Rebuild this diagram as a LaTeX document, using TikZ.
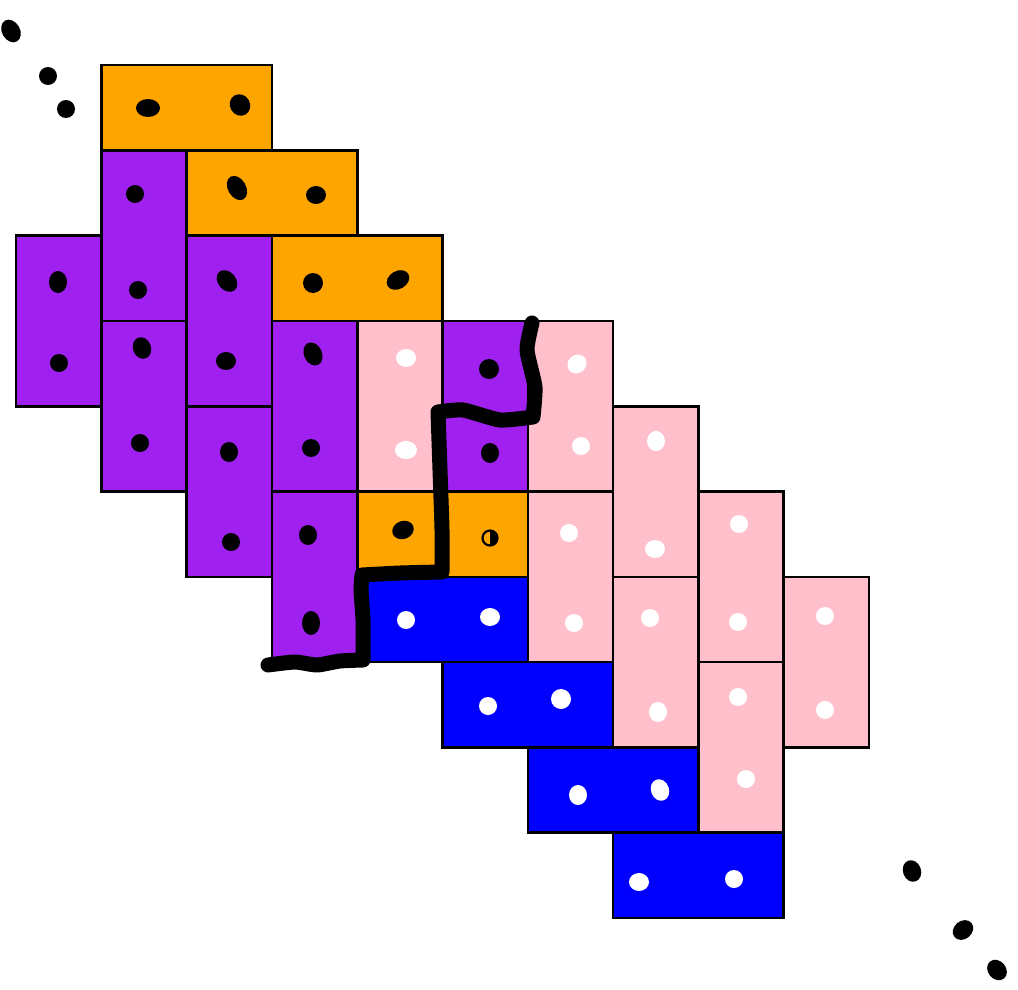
\documentclass[tikz,border=0pt]{standalone}
\definecolor{dor}{HTML}{FFA500}
\definecolor{dpu}{HTML}{A020F0}
\definecolor{dpi}{HTML}{FFC0CB}
\definecolor{dbl}{HTML}{0000FF}
\begin{document}
\begin{tikzpicture}[x=1pt,y=-1pt,
  tile/.style={draw=black,line width=2.6pt},
  wall/.style={draw=black,line width=15pt,line cap=round,line join=round}]
\useasboundingbox (0,0) rectangle (1018,990);
% horizontal dominoes
\foreach \i/\j/\c in {1/0/dor,2/1/dor,3/2/dor,4/5/dor,4/6/dbl,5/7/dbl,6/8/dbl,7/9/dbl}
  \draw[tile,fill=\c] ({16+\i*85.3},{65+\j*85.3}) rectangle ++(170.6,85.3);
% vertical dominoes
\foreach \i/\j/\c in {0/2/dpu,1/1/dpu,1/3/dpu,2/2/dpu,2/4/dpu,3/3/dpu,3/5/dpu,5/3/dpu,
  4/3/dpi,6/3/dpi,7/4/dpi,6/5/dpi,8/5/dpi,7/6/dpi,9/6/dpi,8/7/dpi}
  \draw[tile,fill=\c] ({16+\i*85.3},{65+\j*85.3}) rectangle ++(85.3,170.6);
% black dots
\foreach \x/\y/\a/\b/\r in {148/108/12/9/0,240/105/10/11/30,237/188/9/13/30,316/195/10/9/0,
  313/283/10/10/0,398/280/12/9/30,135/194/9/9/0,138/290/9/9/0,58/282/9/11/0,59/363/9/9/0,
  227/281/9/12/40,226/361/10/9/0,142/348/9/11/20,140/443/9/9/0,313/354/9/12/25,311/448/9/9/0,
  229/452/9/10/0,231/542/9/9/0,308/535/9/10/0,311/623/9/12/0,489/369/10/10/0,490/453/9/10/0,
  403/530/11/9/20,
  11/31/9/12/30,48/76/9/9/0,66/109/9/9/0,912/871/9/11/20,963/930/11/9/40,997/970/9/11/40}
  \fill[black,rotate around={\r:(\x,\y)}] (\x,\y) ellipse [x radius=\a, y radius=\b];
\draw[line width=2.2pt] (490,538) circle (7.5);
\fill (490,531) arc[start angle=-90,end angle=90,radius=7] -- cycle;
% white dots
\foreach \x/\y/\a/\b/\r in {406/358/10/9/0,406/450/11/9/0,577/364/10/9/40,581/446/9/9/0,
  656/441/9/10/0,655/549/10/9/0,569/533/9/9/0,574/623/9/9/0,739/524/9/9/0,738/622/9/9/0,
  650/618/9/9/0,658/712/9/10/0,825/616/9/9/0,825/710/9/9/0,738/697/9/9/0,746/779/9/9/0,
  406/620/9/9/0,490/617/10/9/0,488/706/9/9/0,561/699/10/10/0,578/795/9/10/0,660/790/9/11/20,
  639/882/10/9/0,734/879/9/9/0}
  \fill[white,rotate around={\r:(\x,\y)}] (\x,\y) ellipse [x radius=\a, y radius=\b];
% black path
\draw[wall] plot[smooth,tension=0.35] coordinates {(268,665) (295,662) (317,665) (340,661) (363,660)}
  -- plot[smooth,tension=0.35] coordinates {(363,660) (363,620) (361,590) (362,575)}
  -- plot[smooth,tension=0.35] coordinates {(362,575) (400,573) (442,572)}
  -- plot[smooth,tension=0.35] coordinates {(442,572) (442,530) (440,470) (438,412)}
  -- plot[smooth,tension=0.35] coordinates {(438,412) (463,410) (500,420) (533,417)}
  -- plot[smooth,tension=0.35] coordinates {(533,417) (535,387) (527,350) (532,323)};
\end{tikzpicture}
\end{document}
